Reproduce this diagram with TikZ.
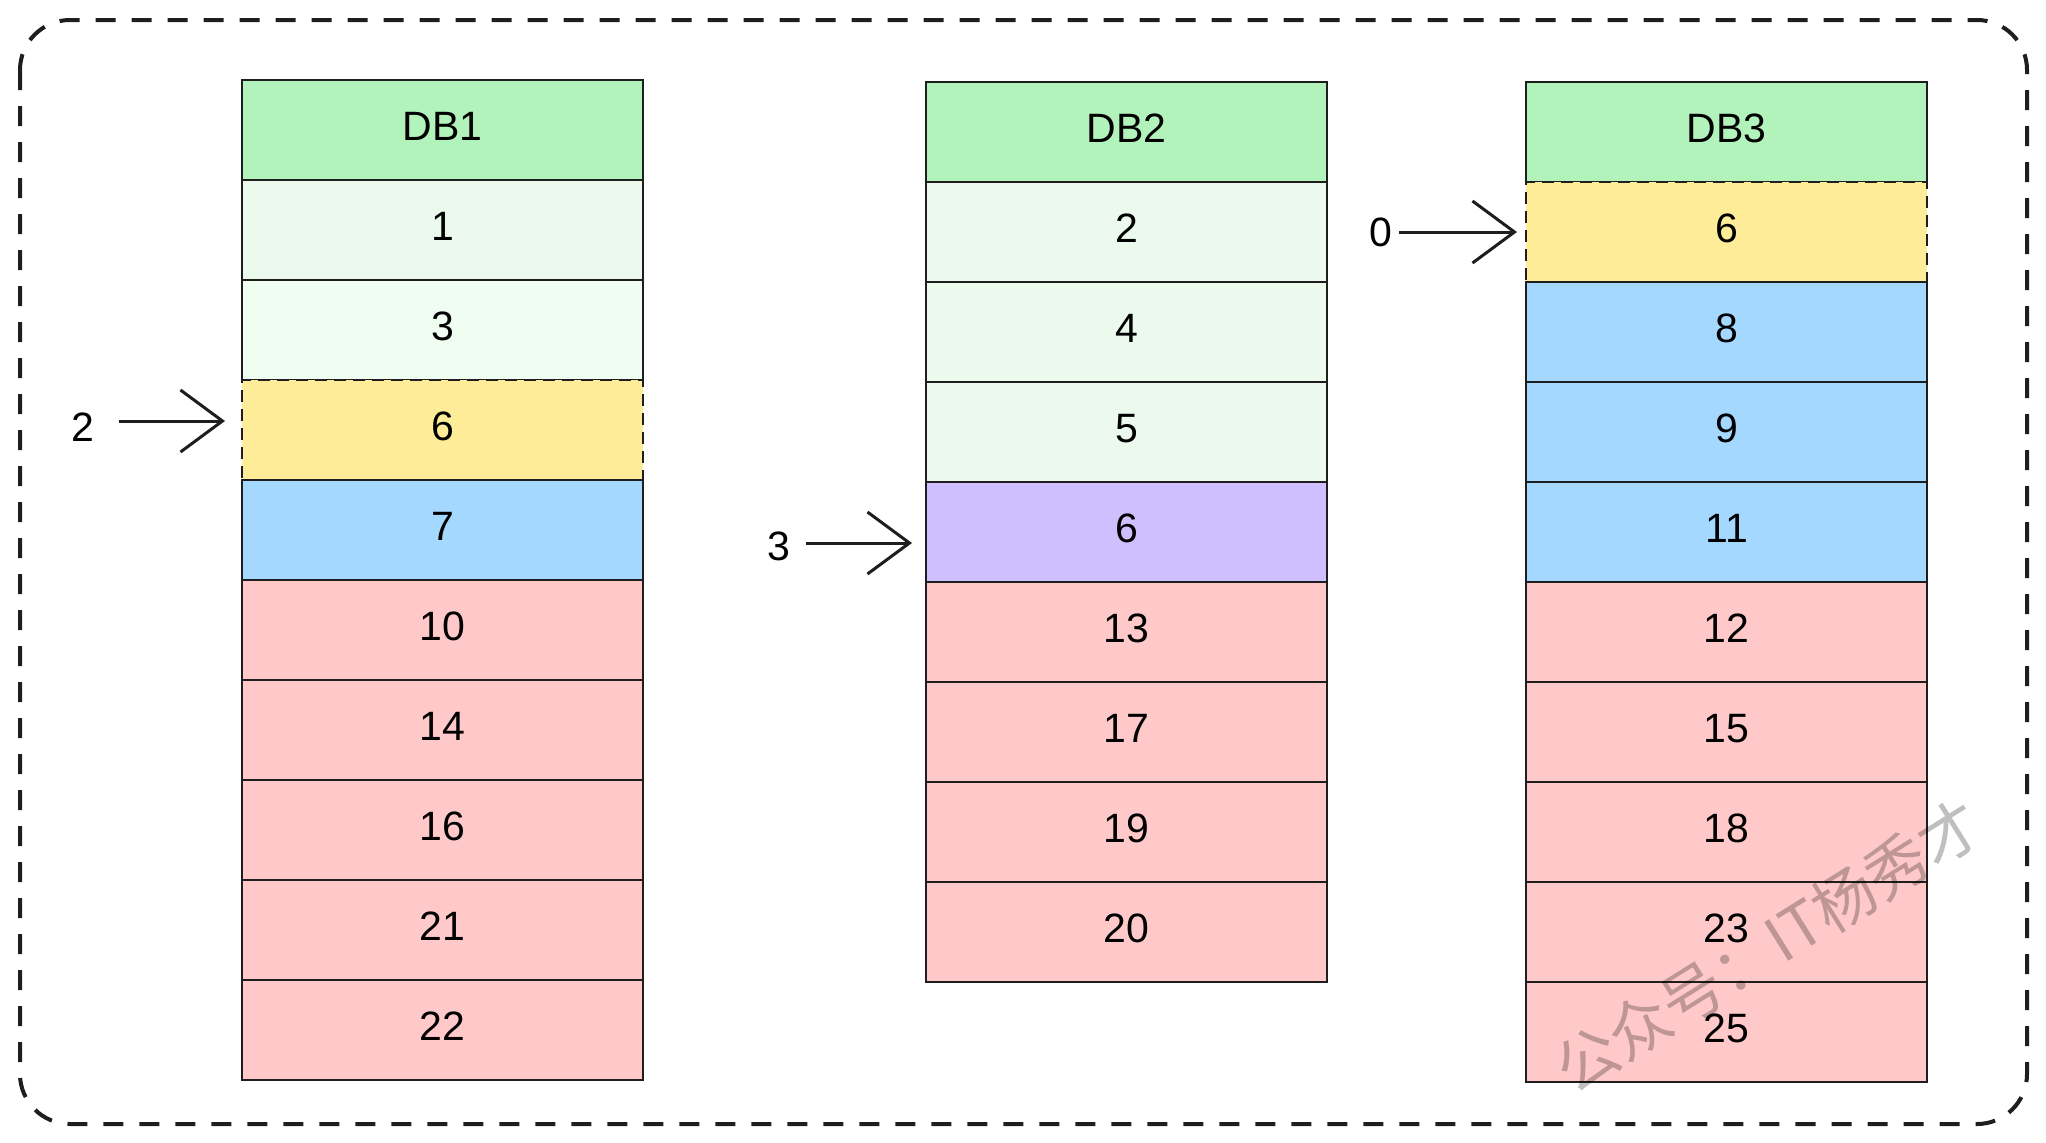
\documentclass[tikz,border=0pt]{standalone}
\usepackage{fontspec}
\setmainfont{Liberation Sans}
\newfontfamily\cjk{Noto Sans CJK SC}
\usetikzlibrary{arrows.meta}
\definecolor{hdr}{HTML}{B2F2BB}
\definecolor{lgA}{HTML}{EBFAEC}
\definecolor{lgB}{HTML}{F0FDF1}
\definecolor{yel}{HTML}{FFEC99}
\definecolor{blu}{HTML}{A5D8FF}
\definecolor{pnk}{HTML}{FFC9C9}
\definecolor{pur}{HTML}{D0BFFF}
\definecolor{ink}{HTML}{1E1E1E}
\begin{document}
\begin{tikzpicture}[x=0.5pt,y=-0.5pt,
  cell/.style={draw=ink, line width=1.1pt, minimum width=200.5pt, minimum height=50pt,
    inner sep=0pt, text depth=3.5pt, anchor=north west, font=\fontsize{20.5}{24}\selectfont},
  c-hdr/.style={cell, fill=hdr},
  c-lgA/.style={cell, fill=lgA},
  c-lgB/.style={cell, fill=lgB},
  c-yel/.style={cell, fill=yel, dash pattern=on 6pt off 3.5pt},
  c-blu/.style={cell, fill=blu},
  c-pnk/.style={cell, fill=pnk},
  c-pur/.style={cell, fill=pur},
  lbl/.style={inner sep=0pt, font=\fontsize{20.5}{24}\selectfont},
  arr/.style={line width=1.5pt, draw=ink, -{Straight Barb[length=21pt,width=31pt,line width=1.5pt]}},
  frame/.style={draw=ink, line width=2pt, dash pattern=on 10pt off 8pt, rounded corners=25pt}]
\useasboundingbox (0,0) rectangle (2046,1142);
\draw[frame] (20,20) rectangle (2027,1124);
% DB1
\foreach \t/\s [count=\i from 0] in {DB1/hdr,1/lgA,3/lgB,6/yel,7/blu,10/pnk,14/pnk,16/pnk,21/pnk,22/pnk}
  \node[c-\s] (a\i) at (241,79+\i*100) {\t};
% DB2
\foreach \t/\s [count=\i from 0] in {DB2/hdr,2/lgA,4/lgA,5/lgA,6/pur,13/pnk,17/pnk,19/pnk,20/pnk}
  \node[c-\s] (b\i) at (925,81+\i*100) {\t};
% DB3
\foreach \t/\s [count=\i from 0] in {DB3/hdr,6/yel,8/blu,9/blu,11/blu,12/pnk,15/pnk,18/pnk,23/pnk,25/pnk}
  \node[c-\s] (c\i) at (1525,81+\i*100) {\t};
% pointers
\node[lbl] (l2) at (83,427) {2};
\draw[arr, shorten <=12pt, shorten >=8pt] ([yshift=3pt]l2.east) -- ([yshift=3pt]l2.east -| a3.west);
\node[lbl] (l3) at (779,546) {3};
\draw[arr, shorten <=7.5pt, shorten >=6.5pt] ([yshift=1.5pt]l3.east) -- ([yshift=1.5pt]l3.east -| b4.west);
\node[lbl] (l0) at (1381,232) {0};
\draw[arr, shorten <=3pt, shorten >=4pt] (l0.east) -- (l0.east -| c1.west);
% watermark
\node[rotate=32, text=black, text opacity=0.25, inner sep=0pt,
  font=\cjk\fontsize{31}{36}\selectfont] (wm) at (1768,946) {公众号：IT杨秀才};
\end{tikzpicture}
\end{document}
